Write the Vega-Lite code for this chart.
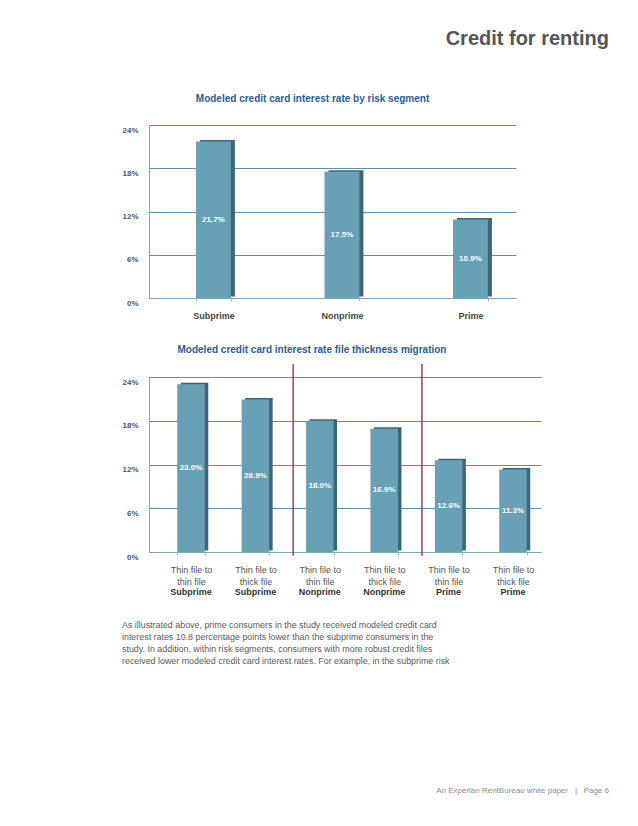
{
  "$schema": "https://vega.github.io/schema/vega-lite/v6.json",
  "background": "white",
  "padding": {"left": 121, "top": 29, "right": 0, "bottom": 0},
  "title": {"text": "Credit for renting", "anchor": "end", "fontSize": 20, "fontWeight": "bold", "color": "#555555", "font": "Liberation Sans", "offset": 45},
  "columns": 1,
  "align": "none",
  "spacing": 25,
  "config": {"view": {"stroke": null}, "font": "Liberation Sans"},
  "datasets": {
    "risk": [
      {"segment": "Subprime", "rate": 0.217},
      {"segment": "Nonprime", "rate": 0.175},
      {"segment": "Prime", "rate": 0.109}
    ],
    "thickness": [
      {"bar": "Thin file to/thin file/Subprime", "rate": 0.230},
      {"bar": "Thin file to/thick file/Subprime", "rate": 0.209},
      {"bar": "Thin file to/thin file/Nonprime", "rate": 0.180},
      {"bar": "Thin file to/thick file/Nonprime", "rate": 0.169},
      {"bar": "Thin file to/thin file/Prime", "rate": 0.126},
      {"bar": "Thin file to/thick file/Prime", "rate": 0.113}
    ],
    "dividers": [
      {"bar": "Thin file to/thin file/Nonprime"},
      {"bar": "Thin file to/thin file/Prime"}
    ],
    "paragraph": [
      {"line": 1, "text": "As illustrated above, prime consumers in the study received modeled credit card"},
      {"line": 2, "text": "interest rates 10.8 percentage points lower than the subprime consumers in the"},
      {"line": 3, "text": "study. In addition, within risk segments, consumers with more robust credit files"},
      {"line": 4, "text": "received lower modeled credit card interest rates. For example, in the subprime risk"}
    ]
  },
  "concat": [
    {
      "width": 367,
      "height": 173,
      "title": {"text": "Modeled credit card interest rate by risk segment", "fontSize": 10, "fontWeight": "bold", "color": "#1f5d9e", "anchor": "middle", "frame": "group", "dx": -20, "offset": 21},
      "data": {"name": "risk"},
      "resolve": {"scale": {"y": "independent"}, "axis": {"y": "independent"}},
      "layer": [
        {
          "mark": {"type": "bar", "color": "#3f6676", "xOffset": 4, "yOffset": -1.5},
          "encoding": {
            "x": {"field": "segment", "type": "nominal", "sort": null,
              "scale": {"paddingInner": 0.728, "paddingOuter": 0.292, "align": 0.626},
              "axis": {"title": null, "labelAngle": 0, "labelFontSize": 9, "labelFontWeight": "bold", "labelColor": "#444444", "labelPadding": 10, "tickBand": "extent", "tickSize": 3, "tickColor": "#a8bcc6", "domainColor": "#7fa5b6"}},
            "y": {"field": "rate", "type": "quantitative", "scale": {"domain": [0, 0.24]},
              "axis": {"title": null, "values": [0, 0.06, 0.12, 0.18, 0.24], "format": ".0%", "labelFontSize": 8, "labelFontWeight": "bold", "labelColor": "#555555", "labelPadding": 11, "labelOffset": 5, "ticks": false, "domainColor": "#7fa8ba", "gridColor": "#5d90a5", "gridOpacity": 1, "minExtent": 27, "maxExtent": 27}}
          }
        },
        {
          "mark": {"type": "bar", "color": "#68a0b6"},
          "encoding": {
            "x": {"field": "segment", "type": "nominal", "sort": null},
            "y": {"field": "rate", "type": "quantitative", "scale": {"domain": [0, 0.24]}, "axis": null}
          }
        },
        {
          "mark": {"type": "text", "color": "white", "fontWeight": "bold", "fontSize": 8, "baseline": "middle"},
          "encoding": {
            "x": {"field": "segment", "type": "nominal", "sort": null},
            "y": {"field": "rate", "type": "quantitative", "scale": {"domain": [0, 0.48]}, "axis": null},
            "text": {"field": "rate", "type": "quantitative", "format": ".1%"}
          }
        }
      ]
    },
    {
      "width": 392,
      "height": 175,
      "title": {"text": "Modeled credit card interest rate file thickness migration", "fontSize": 10, "fontWeight": "bold", "color": "#1f5d9e", "anchor": "middle", "frame": "group", "dx": -33, "offset": 8},
      "resolve": {"scale": {"y": "independent"}, "axis": {"x": "independent", "y": "independent"}},
      "layer": [
        {
          "data": {"name": "thickness"},
          "mark": {"type": "bar", "color": "#3f6676", "xOffset": 3.5, "yOffset": -1.5},
          "encoding": {
            "x": {"field": "bar", "type": "nominal", "sort": null,
              "scale": {"domain": ["Thin file to/thin file/Subprime", "Thin file to/thick file/Subprime", "Thin file to/thin file/Nonprime", "Thin file to/thick file/Nonprime", "Thin file to/thin file/Prime", "Thin file to/thick file/Prime"], "paddingInner": 0.573, "paddingOuter": 0.33, "align": 0.665},
              "axis": {"title": null, "orient": "bottom", "labelAngle": 0, "labelFontSize": 9, "labelColor": "#555555", "labelPadding": 10, "labelLineHeight": 12.5, "labelExpr": "datum.value ? [split(datum.value, '/')[0], split(datum.value, '/')[1]] : ''", "tickBand": "extent", "tickSize": 3, "tickColor": "#a8bcc6", "domainColor": "#7fa5b6"}},
            "y": {"field": "rate", "type": "quantitative", "scale": {"domain": [0, 0.24]},
              "axis": {"title": null, "values": [0, 0.06, 0.12, 0.18, 0.24], "format": ".0%", "labelFontSize": 8, "labelFontWeight": "bold", "labelColor": "#555555", "labelPadding": 11, "labelOffset": 5, "ticks": false, "domainColor": "#7fa8ba", "gridColor": "#5d90a5", "gridOpacity": 1, "minExtent": 27, "maxExtent": 27}}
          }
        },
        {
          "data": {"name": "thickness"},
          "mark": {"type": "bar", "color": "#68a0b6"},
          "encoding": {
            "x": {"field": "bar", "type": "nominal", "sort": null, "axis": null},
            "y": {"field": "rate", "type": "quantitative", "scale": {"domain": [0, 0.24]}, "axis": null}
          }
        },
        {
          "data": {"name": "dividers"},
          "mark": {"type": "rule", "color": "#9b1b4c", "strokeWidth": 1.3},
          "encoding": {
            "x": {"field": "bar", "type": "nominal", "bandPosition": -0.47, "axis": null},
            "y": {"datum": 0.258, "type": "quantitative", "scale": {"domain": [0, 0.24]}, "axis": null},
            "y2": {"datum": -0.005}
          }
        },
        {
          "data": {"name": "thickness"},
          "mark": {"type": "text", "color": "white", "fontWeight": "bold", "fontSize": 8, "baseline": "middle"},
          "encoding": {
            "x": {"field": "bar", "type": "nominal", "sort": null,
              "axis": {"title": null, "orient": "bottom", "labelAngle": 0, "labelFontSize": 9, "labelFontWeight": "bold", "labelColor": "#333333", "labelPadding": 35, "labelExpr": "split(datum.value, '/')[2]", "ticks": false, "domain": false}},
            "y": {"field": "rate", "type": "quantitative", "scale": {"domain": [0, 0.48]}, "axis": null},
            "text": {"field": "rate", "type": "quantitative", "format": ".1%"}
          }
        }
      ]
    },
    {
      "width": 460,
      "height": 42,
      "data": {"name": "paragraph"},
      "title": {"text": "An Experian RentBureau white paper\u00a0\u00a0\u00a0|\u00a0\u00a0\u00a0Page 6", "orient": "bottom", "anchor": "end", "frame": "group", "fontSize": 8, "fontWeight": "normal", "color": "#8c8c8c", "offset": 121},
      "mark": {"type": "text", "align": "left", "baseline": "middle", "fontSize": 8.9, "color": "#5a5a5a", "dx": -27},
      "encoding": {
        "x": {"value": 0},
        "y": {"field": "line", "type": "ordinal", "axis": null, "scale": {"padding": 0.25}},
        "text": {"field": "text"}
      }
    }
  ]
}
